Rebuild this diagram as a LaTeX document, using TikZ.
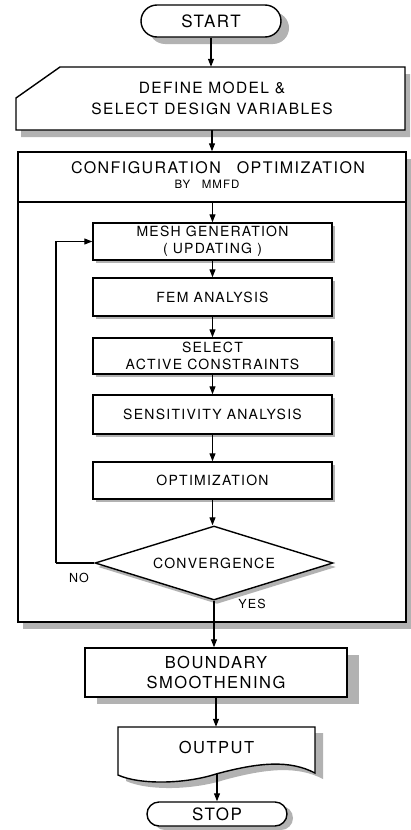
\documentclass[tikz,border=0pt]{standalone}
\usepackage{fontspec}
\setmainfont[LetterSpace=9]{TeX Gyre Heros}
\usetikzlibrary{shapes.geometric,shapes.misc,shadows,arrows.meta}
\tikzset{>={Triangle[length=8pt,width=6pt]}}
\tikzset{%
    sdw/.style 2 args={general shadow={fill=black!30, shadow xshift=#1pt, shadow yshift=-#2pt}},
    box/.style={draw, line width=1.4pt, rectangle, fill=white, align=center,
        minimum width=239pt, inner sep=0pt, font=\fontsize{14}{17}\selectfont},
    term/.style={draw, line width=1.4pt, rounded rectangle, fill=white,
        minimum width=140pt, inner sep=0pt, font=\fontsize{17}{20}\selectfont},
    big/.style={font=\fontsize{16.5}{20.5}\selectfont, align=center},
    link/.style={line width=1.1pt}
}
\begin{document}
\begin{tikzpicture}[x=1pt,y=-1pt]
\useasboundingbox (0,0) rectangle (411,830);

\node[term, sdw={8}{7}, minimum height=32pt] (start) at (211,21) {START};

\fill[black!30] (65,74) -- (410,74) -- (410,137) -- (21,137) -- (21,105) -- cycle;
\filldraw[fill=white, line width=1.4pt] (60,67) -- (405,67) -- (405,130) -- (16,130) -- (16,98) -- cycle;
\node[big, font=\fontsize{15.5}{20.5}\selectfont, minimum width=389pt, minimum height=63pt] (define) at (212,98.5) {DEFINE MODEL \&\\SELECT DESIGN VARIABLES};

\node[box, sdw={5}{7}, minimum width=388pt, minimum height=470pt] (config) at (212,387) {};
\node[font=\fontsize{16}{19}\selectfont] (title) at (218,168) {CONFIGURATION\quad OPTIMIZATION};
\node[font=\fontsize{11.5}{13}\selectfont] (bymmfd) at (207,184) {BY\quad MMFD};
\coordinate (sep) at (212,202);
\draw[line width=1.4pt] (config.west |- sep) -- (config.east |- sep);

\node[box, sdw={3}{3}, minimum height=37pt] (mesh) at (212.5,241.5) {MESH GENERATION\\( UPDATING )};
\node[box, sdw={3}{3}, minimum height=38pt] (fem) at (212.5,297) {FEM ANALYSIS};
\node[box, sdw={3}{3}, minimum height=36pt] (select) at (212.5,356) {SELECT\\ACTIVE CONSTRAINTS};
\node[box, sdw={3}{3}, minimum height=39pt] (sens) at (212.5,414.5) {SENSITIVITY ANALYSIS};
\node[box, sdw={3}{3}, minimum height=37pt] (opt) at (212.5,480.5) {OPTIMIZATION};
\node[box, diamond, aspect=3.2, sdw={3}{4}, minimum width=238pt, minimum height=74pt] (conv) at (214,563) {CONVERGENCE};
\coordinate (back) at (56,563);

\node[box, big, sdw={12}{7}, minimum width=262pt, minimum height=49pt] (bound) at (216,672.5) {BOUNDARY\\SMOOTHENING};

\fill[black!30] (126,733) -- (323,733) -- (323,779) .. controls (298,766) and (268,768) .. (224,780)
    .. controls (193,790) and (148,791) .. (126,781) -- cycle;
\filldraw[fill=white, line width=1.4pt] (118,727) -- (315,727) -- (315,773) .. controls (290,760) and (260,762) .. (216,774)
    .. controls (185,784) and (140,785) .. (118,775) -- cycle;
\node[big, minimum width=197pt, minimum height=48pt] (output) at (216.5,751) {};
\node[big] (outtext) at (216.5,747) {OUTPUT};
\coordinate (outbot) at (217,774);

\node[term, sdw={6}{4}, minimum height=24pt] (stop) at (217,814) {STOP};

\draw[link,->] (start.south) -- (start.south |- define.north);
\draw[link,->] (config.north |- define.south) -- (config.north);
\draw[link,->] (sep -| mesh.north) -- (mesh);
\draw[link,->] (mesh) -- (fem);
\draw[link,->] (fem) -- (select);
\draw[link,->] (select) -- (sens);
\draw[link,->] (sens) -- (opt);
\draw[link,->] (opt.south) -- (opt.south |- conv.north);
\draw[link] (conv.west) -- (back);
\draw[link,->] (back) |- (mesh.west);
\draw[link,->] (conv.south) -- (conv.south |- bound.north);
\draw[link,->] (bound.south) -- (bound.south |- output.north);
\draw[link,->] (outbot) -- (outbot |- stop.north);

\node[font=\fontsize{12.5}{15}\selectfont] (no) at (79,578) {NO};
\node[font=\fontsize{12.5}{15}\selectfont] (yes) at (252,604) {YES};
\end{tikzpicture}
\end{document}
